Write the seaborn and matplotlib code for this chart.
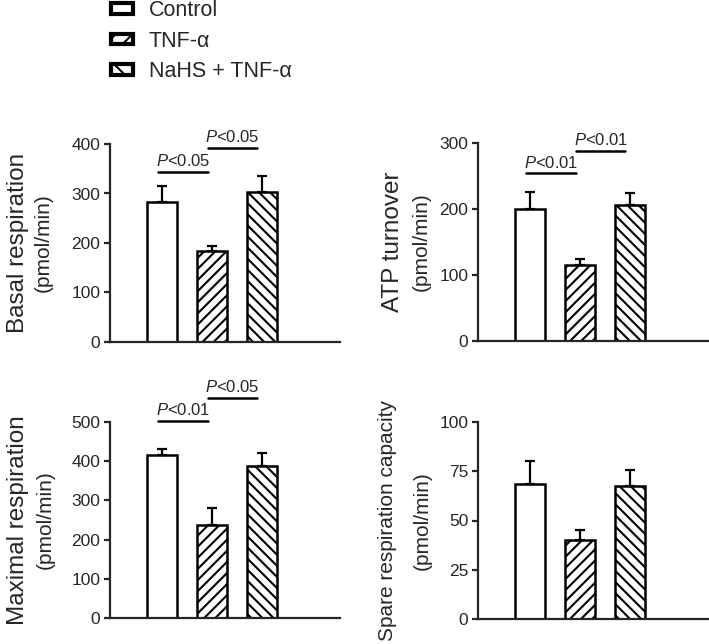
import matplotlib.pyplot as plt
import numpy as np
import seaborn as sns
from matplotlib.patches import Patch

sns.set_style("ticks")
plt.rcParams.update(
    {
        "font.family": ["Liberation Sans", "DejaVu Sans"],
        "mathtext.fontset": "custom",
        "mathtext.rm": "Liberation Sans",
        "mathtext.it": "Liberation Sans:italic",
        "hatch.linewidth": 1.5,
        "hatch.color": "black",
        "axes.linewidth": 1.6,
        "ytick.major.width": 1.6,
        "ytick.major.size": 4,
        "ytick.labelsize": 12.5,
    }
)

GROUPS = ["Control", "TNF-α", "NaHS + TNF-α"]
HATCHES = ["", "///", "\\\\\\"]

BASAL_MEAN = [282, 184, 304]
BASAL_SEM = [33, 9, 31]
ATP_MEAN = [200, 115, 206]
ATP_SEM = [26, 9, 18]
MAXIMAL_MEAN = [415, 238, 389]
MAXIMAL_SEM = [16, 43, 33]
SPARE_MEAN = [68.5, 40.3, 67.5]
SPARE_SEM = [11.5, 5, 8]

BASAL_TICKS = [0, 100, 200, 300, 400]
ATP_TICKS = [0, 100, 200, 300]
MAXIMAL_TICKS = [0, 100, 200, 300, 400, 500]
SPARE_TICKS = [0, 25, 50, 75, 100]

# (height, label) for Control vs TNF and TNF vs NaHS comparisons
BASAL_SIG = [(343, "$P$<0.05"), (392, "$P$<0.05")]
ATP_SIG = [(254, "$P$<0.01"), (288, "$P$<0.01")]
MAXIMAL_SIG = [(502, "$P$<0.01"), (562, "$P$<0.05")]
SPARE_SIG = []

W, H = 709, 644
fig = plt.figure(figsize=(W / 100, H / 100), dpi=100)


def px_axes(left, top, right, bottom):
    return fig.add_axes([left / W, 1 - bottom / H, (right - left) / W, (bottom - top) / H])


def panel(ax, mean, sem, ticks, sig, label, label_size, label_dx, sub_dx):
    sns.barplot(
        x=GROUPS,
        y=mean,
        color="white",
        edgecolor="black",
        linewidth=1.8,
        width=0.6,
        saturation=1,
        errorbar=None,
        ax=ax,
    )
    for patch, hatch in zip(ax.patches, HATCHES):
        patch.set_hatch(hatch)
        patch.set_facecolor("white")
    ax.errorbar(
        range(len(mean)),
        mean,
        yerr=[np.zeros(len(sem)), sem],
        fmt="none",
        ecolor="black",
        elinewidth=1.6,
        capsize=3.5,
        capthick=1.6,
        zorder=1,
    )
    ax.set_xlim(-1.03, 3.57)
    ax.set_ylim(ticks[0], ticks[-1])
    ax.set_yticks(ticks)
    ax.set_xticks([])
    ax.set_xlabel("")
    ax.set_ylabel("")
    ax.tick_params(axis="y", pad=3)
    sns.despine(ax=ax)

    spans = [(-0.07, 0.93), (0.93, 1.9)]
    for (x0, x1), (y, text) in zip(spans, sig):
        ax.plot([x0, x1], [y, y], color="black", lw=1.8, clip_on=False)
        ax.annotate(
            text, xy=((x0 + x1) / 2, y), xytext=(0, 2), textcoords="offset points",
            ha="center", va="bottom", fontsize=12, annotation_clip=False,
        )

    ax.annotate(
        label, xy=(0, 0.5), xycoords="axes fraction", xytext=(-label_dx * 0.72, 0),
        textcoords="offset points", rotation=90, ha="center", va="center",
        fontsize=label_size,
    )
    ax.annotate(
        "(pmol/min)", xy=(0, 0.5), xycoords="axes fraction", xytext=(-sub_dx * 0.72, 0),
        textcoords="offset points", rotation=90, ha="center", va="center",
        fontsize=15,
    )


panel(px_axes(110, 144, 340, 342), BASAL_MEAN, BASAL_SEM, BASAL_TICKS, BASAL_SIG,
      "Basal respiration", 17.5, 92, 67)
panel(px_axes(478, 143, 709, 341), ATP_MEAN, ATP_SEM, ATP_TICKS, ATP_SIG,
      "ATP turnover", 17.5, 85, 57)
panel(px_axes(110, 422, 340, 618), MAXIMAL_MEAN, MAXIMAL_SEM, MAXIMAL_TICKS, MAXIMAL_SIG,
      "Maximal respiration", 17.5, 92, 65)
panel(px_axes(478, 422, 709, 619), SPARE_MEAN, SPARE_SEM, SPARE_TICKS, SPARE_SIG,
      "Spare respiration capacity", 15, 90, 56)

handles = [
    Patch(facecolor="white", edgecolor="black", hatch=h, linewidth=3, label=g)
    for g, h in zip(GROUPS, ["", "//", "\\\\"])
]
fig.legend(
    handles=handles,
    loc="upper left",
    bbox_to_anchor=(111 / W, 1.0),
    frameon=False,
    fontsize=15.5,
    borderpad=0,
    borderaxespad=0,
    handlelength=1.0,
    handleheight=0.4,
    handletextpad=0.75,
    labelspacing=0.45,
)

fig.savefig("out.png", dpi=100)
